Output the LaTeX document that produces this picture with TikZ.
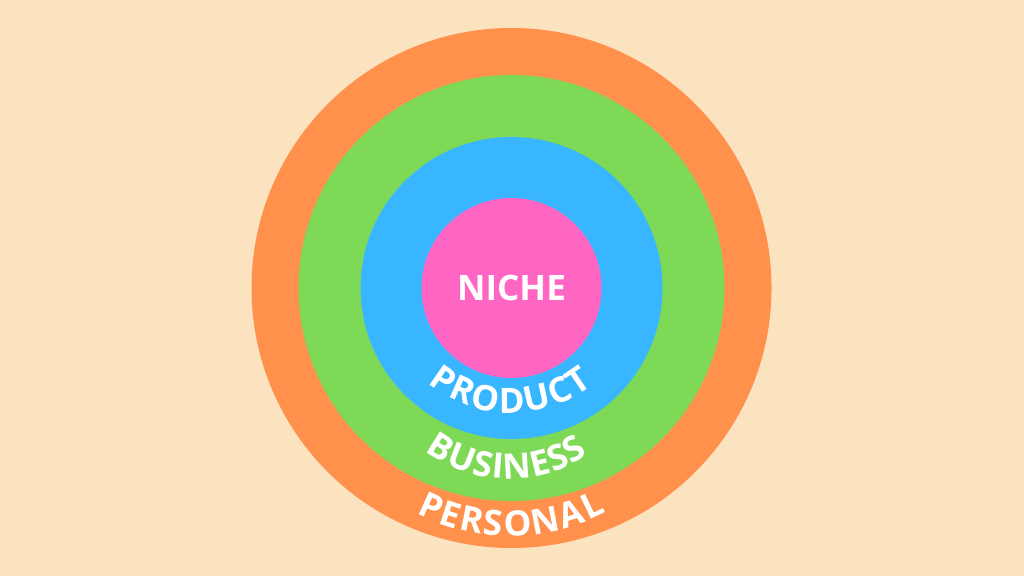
\documentclass[tikz,border=0pt]{standalone}
\usepackage{fontspec}
\setmainfont{Open Sans}
\usepackage{xcolor}
\usepackage{tikz}
\usetikzlibrary{shapes,decorations.text}

\definecolor{peach}{HTML}{FBE3BF}
\definecolor{ringorange}{HTML}{FF914D}
\definecolor{ringgreen}{HTML}{7ED957}
\definecolor{ringblue}{HTML}{38B6FF}
\definecolor{ringpink}{HTML}{FF66C4}
\newcommand{\ringfont}{\fontsize{35}{40}\selectfont\bfseries\color{white}}

\begin{document}
\begin{tikzpicture}[x=1pt,y=1pt]
				\tikzstyle{common} = [circle, draw=none, inner sep=0pt, outer sep=0pt]
				\tikzstyle{ring} = [common]
				\tikzstyle{core} = [common, text=white, font=\fontsize{35}{40}\selectfont\bfseries]
				\tikzstyle{curved} = [decorate, decoration={text along path, text align={fit to path}}]
				\useasboundingbox (0,0) rectangle (1024,576);
				\fill[peach] (0,0) rectangle (1024,576);
				\node[ring, minimum size=520pt, fill=ringorange] (personal) at (511.5,288) {};
				\node[ring, minimum size=426pt, fill=ringgreen] (business) at (personal.center) {};
				\node[ring, minimum size=302pt, fill=ringblue] (product) at (personal.center) {};
				\node[core, minimum size=180pt, fill=ringpink] (niche) at (personal.center) {NICHE};
				\path[curved, decoration={text={|\ringfont|PRODUCT}}] (511,294) ++(230.6:131) arc[start angle=230.6, end angle=308.5, radius=131];
				\path[curved, decoration={text={|\ringfont|BUSINESS}}] (509,238) ++(233.5:141) arc[start angle=233.5, end angle=304.2, radius=141];
				\path[curved, decoration={text={|\ringfont|PERSONAL}}] (510,244) ++(242.6:204) arc[start angle=242.6, end angle=298.1, radius=204];
			\end{tikzpicture}
\end{document}
